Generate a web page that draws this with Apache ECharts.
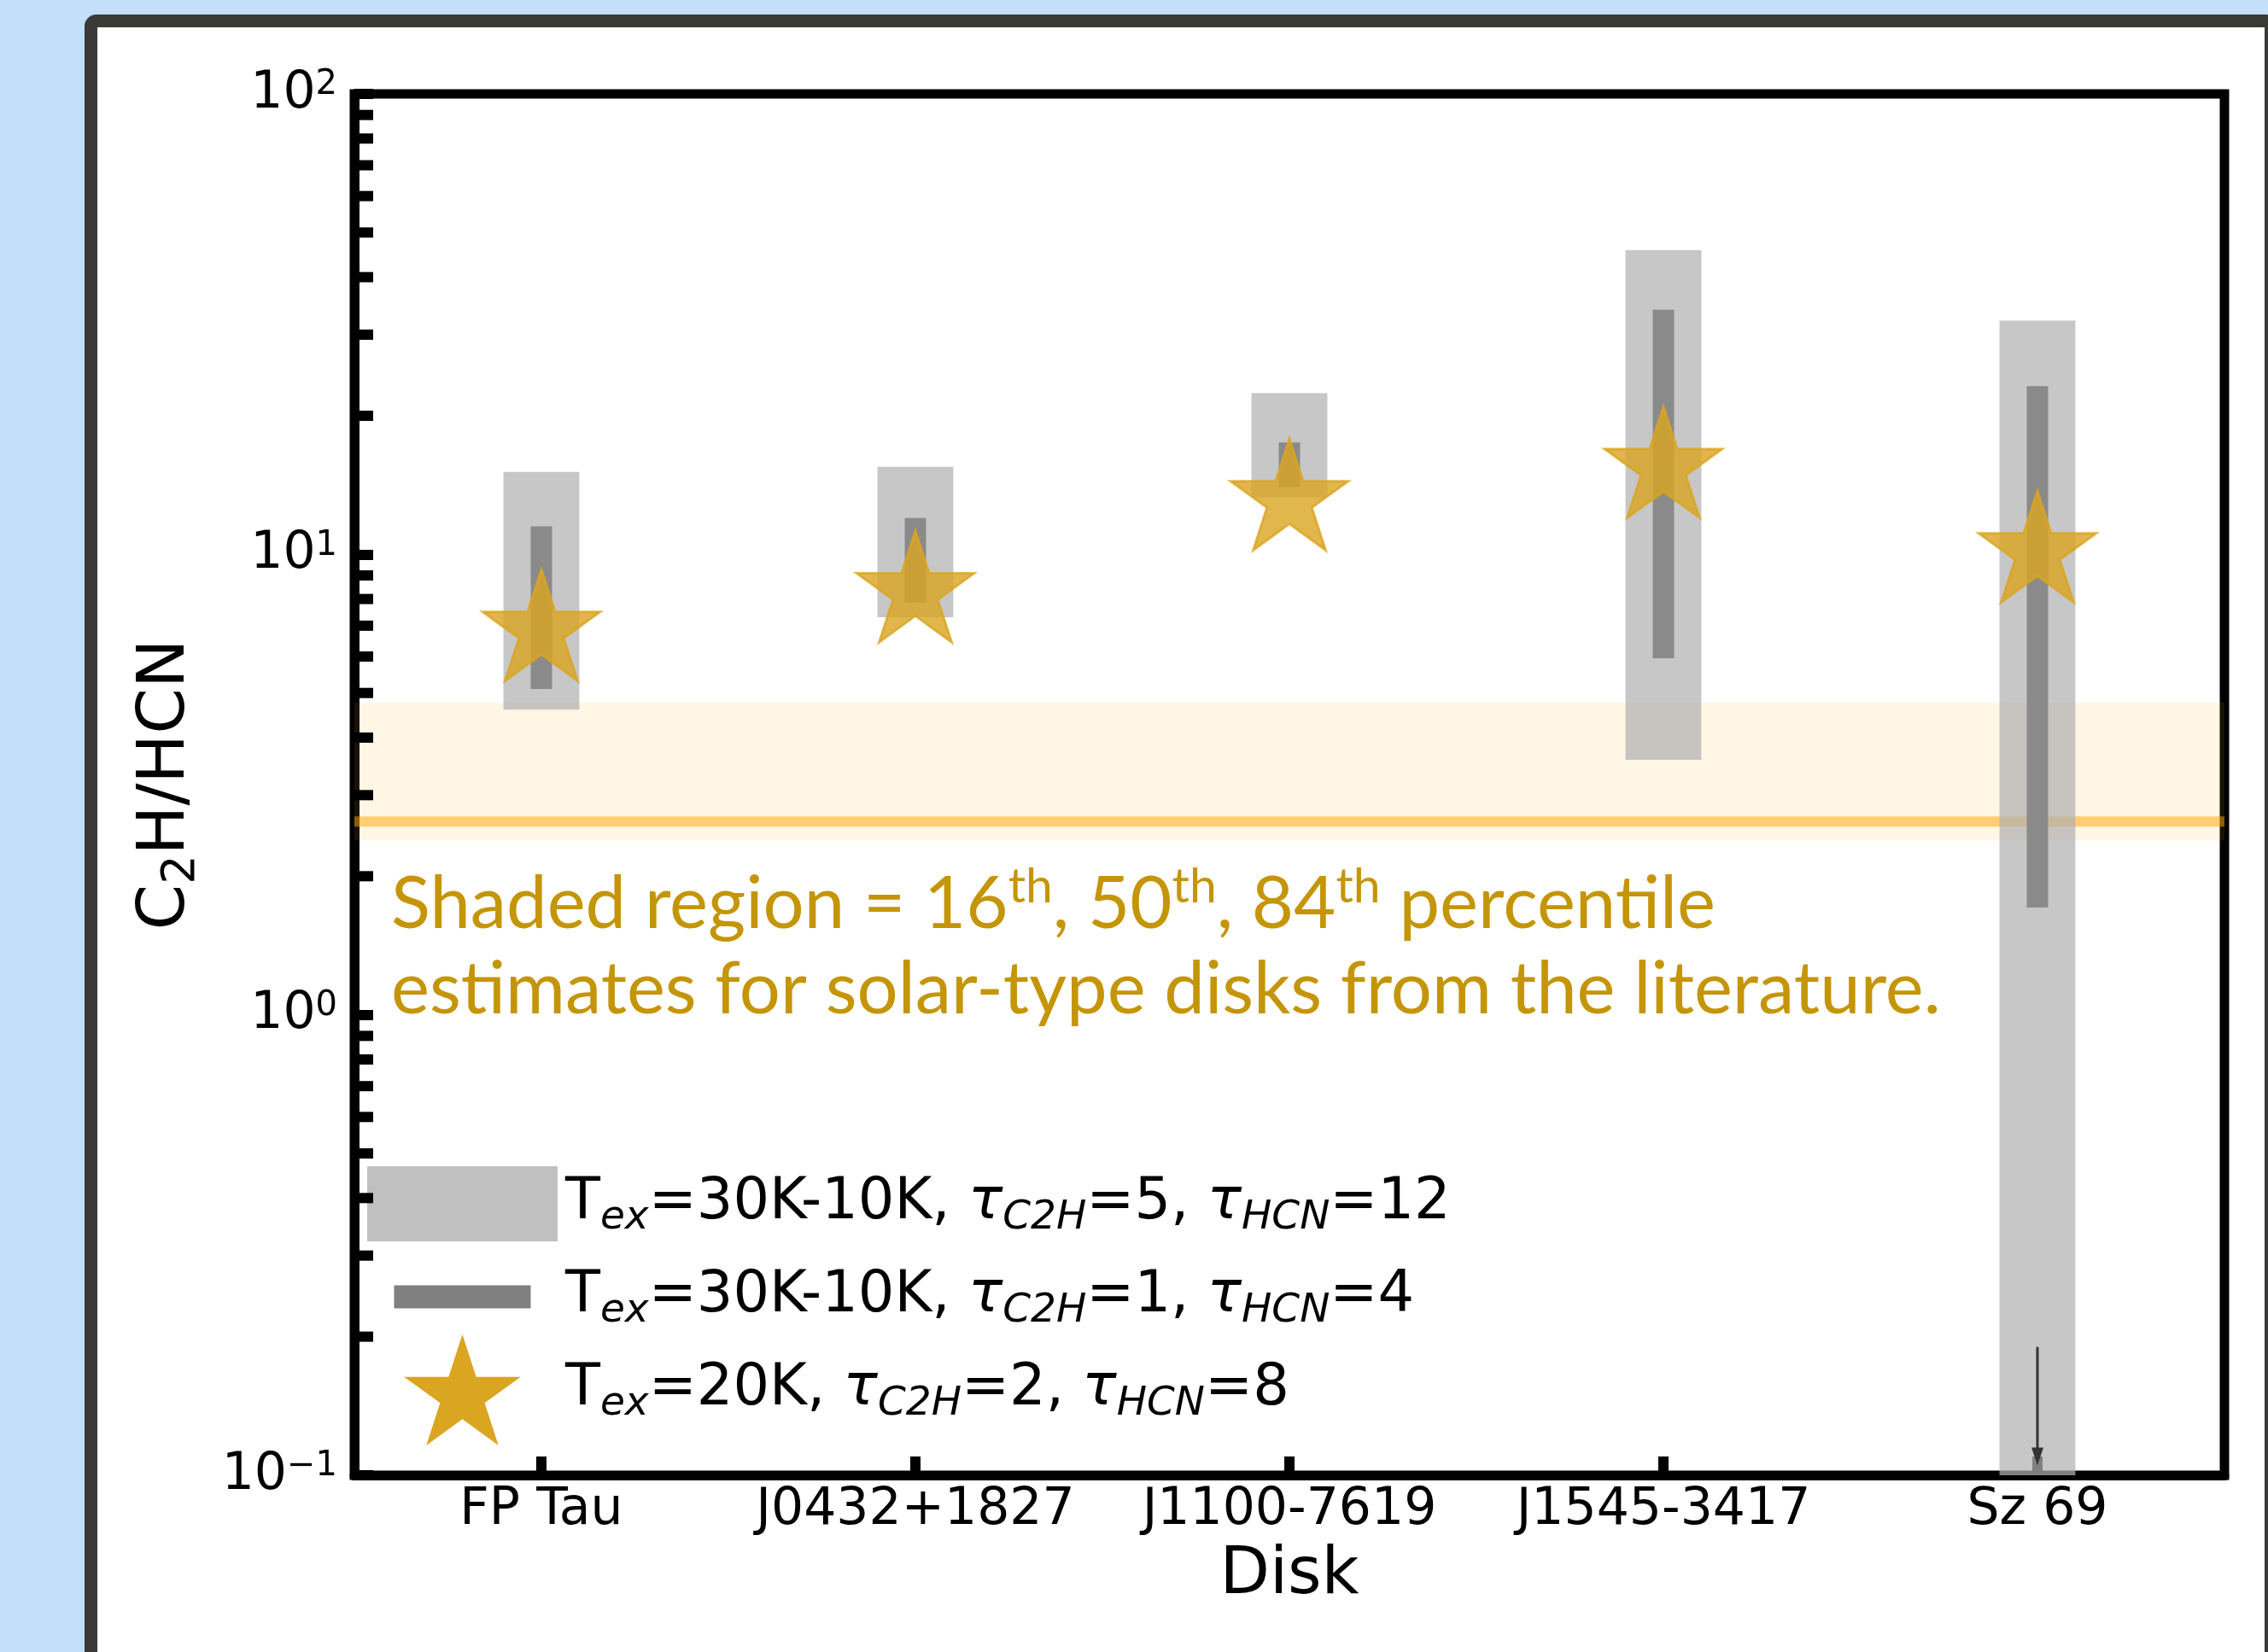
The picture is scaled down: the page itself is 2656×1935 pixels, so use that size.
<!DOCTYPE html>
<html><head><meta charset="utf-8">
<script src="https://cdn.jsdelivr.net/npm/echarts@6/dist/echarts.min.js"></script>
<style>
html,body{margin:0;padding:0;width:2656px;height:1935px;overflow:hidden;background:#c3dff9;}
#frame{position:absolute;left:99px;top:17px;width:2568px;height:2000px;box-sizing:border-box;border:15px solid #3a3937;border-radius:14px;background:#fff;}
#chart{position:absolute;left:0;top:0;width:2656px;height:1935px;}
</style></head><body><div id="frame"></div><div id="chart"></div>
<script>
// ---- data ----
const disks = ['FP Tau', 'J0432+1827', 'J1100-7619', 'J1545-3417', 'Sz 69'];
const wideLow = [4.6, 7.3, 13.3, 3.58, 0.1];      // Tex=30K-10K, tauC2H=5, tauHCN=12
const wideHigh = [15.1, 15.5, 22.4, 45.8, 32.2];
const narrowLow = [5.1, 7.85, 14.0, 5.95, 1.71];  // Tex=30K-10K, tauC2H=1, tauHCN=4
const narrowHigh = [11.5, 12.0, 17.5, 34.0, 23.2];
const starVals = [6.82, 8.27, 13.1, 15.4, 10.1];  // Tex=20K, tauC2H=2, tauHCN=8
const litPercentiles = [2.39, 2.63, 4.77];        // 16th, 50th, 84th
const upperLimitArrow = [4, 0.19, 0.105];         // category index, from, to
const yMinorTicks = [0.2, 0.3, 0.4, 0.5, 0.6, 0.7, 0.8, 0.9, 2, 3, 4, 5, 6, 7, 8, 9, 20, 30, 40, 50, 60, 70, 80, 90];
const legendNames = ['wide', 'narrow', 'star'];
const legendTexts = [
  'T{s|ex}=30K-10K, {i|τ}{s|C2H}=5, {i|τ}{s|HCN}=12',
  'T{s|ex}=30K-10K, {i|τ}{s|C2H}=1, {i|τ}{s|HCN}=4',
  'T{s|ex}=20K, {i|τ}{s|C2H}=2, {i|τ}{s|HCN}=8'
];
const annotation = 'Shaded region = 16{sup|th}, 50{sup|th}, 84{sup|th} percentile\nestimates for solar-type disks from the literature.';

const STAR = 'M0,-100 L22.45,-30.9 L95.1,-30.9 L36.33,11.8 L58.78,80.9 L0,38.2 L-58.78,80.9 L-36.33,11.8 L-95.1,-30.9 L-22.45,-30.9 Z';
const starSymbol = 'path://' + STAR + ' M0,100';
const legendIcons = [
  'path://M0,0 L223,0 L223,88 L0,88 Z M0,-21 M223,109',
  'path://M0,0 L160,0 L160,27 L0,27 Z M-31.5,-51.5 M191.5,78.5',
  'path://' + STAR + ' M-155.2,-100 M155.2,80.9'
];

function boxRender(frac, fill) {
  return function (params, api) {
    const i = api.value(0);
    const top = api.coord([i, api.value(2)]);
    const bot = api.coord([i, api.value(1)]);
    const w = params.coordSys.width / disks.length * frac;
    return {type: 'rect', shape: {x: top[0] - w / 2, y: top[1], width: w, height: bot[1] - top[1]}, style: {fill: fill}};
  };
}

const chart = echarts.init(document.getElementById('chart'), null, {renderer: 'canvas'});
const FF = 'DejaVu Sans';
chart.setOption({
  animation: false,
  backgroundColor: 'transparent',
  grid: {left: 415, right: 51, top: 110, bottom: 207, show: true, borderColor: '#000', borderWidth: 11, backgroundColor: 'transparent', containLabel: false, outerBoundsMode: 'none'},
  xAxis: {
    type: 'category', data: disks, boundaryGap: true,
    axisLine: {show: true, lineStyle: {color: '#000', width: 11}},
    axisTick: {show: true, inside: true, alignWithLabel: true, interval: 0, length: 22, lineStyle: {color: '#000', width: 12}},
    axisLabel: {fontSize: 60, fontFamily: FF, color: '#000', margin: 11, interval: 0, hideOverlap: false},
    splitLine: {show: false},
    name: 'Disk', nameLocation: 'middle', nameGap: 80,
    nameTextStyle: {fontSize: 76, fontFamily: FF, color: '#000'}
  },
  yAxis: {
    type: 'log', logBase: 10, min: 0.1, max: 100,
    axisLine: {show: true, lineStyle: {color: '#000', width: 11}},
    axisTick: {show: true, inside: true, length: 22, lineStyle: {color: '#000', width: 12}},
    minorTick: {show: false},
    splitLine: {show: false},
    axisLabel: {
      margin: 20, color: '#000', fontFamily: FF,
      formatter: function (v) {
        const e = Math.round(Math.log10(v));
        return '{b|10}{s|' + (e < 0 ? '\u2212' + (-e) : e) + '}';
      },
      rich: {
        b: {fontSize: 60, fontFamily: FF, color: '#000', lineHeight: 60, padding: [17, 0, 17, 0]},
        s: {fontSize: 40, fontFamily: FF, color: '#000', lineHeight: 60, verticalAlign: 'top'}
      }
    },
    name: 'C{sub|2}H/HCN', nameLocation: 'middle', nameGap: 175,
    nameTextStyle: {fontSize: 77, fontFamily: FF, color: '#000', lineHeight: 90,
      rich: {sub: {fontSize: 54, fontFamily: FF, color: '#000', lineHeight: 50, verticalAlign: 'bottom'}}}
  },
  legend: {
    orient: 'vertical', left: 430, top: 1345, padding: 0, itemGap: -21,
    itemWidth: 223, itemHeight: 130, selectedMode: false,
    data: [
      {name: legendNames[0], icon: legendIcons[0], itemStyle: {color: '#c0c0c0', borderWidth: 0, opacity: 1}},
      {name: legendNames[1], icon: legendIcons[1], itemStyle: {color: '#808080', borderWidth: 0, opacity: 1}},
      {name: legendNames[2], icon: legendIcons[2], itemStyle: {color: '#daa520', borderWidth: 0, opacity: 1}}
    ],
    formatter: function (name) { return legendTexts[legendNames.indexOf(name)]; },
    textStyle: {
      fontFamily: FF, fontSize: 67, color: '#000', lineHeight: 80, padding: [0, 0, 0, 4],
      rich: {
        s: {fontFamily: FF, fontSize: 47, fontStyle: 'italic', color: '#000', lineHeight: 50, verticalAlign: 'bottom'},
        i: {fontFamily: FF, fontSize: 67, fontStyle: 'italic', color: '#000', lineHeight: 80}
      }
    }
  },
  graphic: [{
    type: 'text', left: 458, top: 1010, z: 50,
    style: {
      text: annotation, fill: '#c59508', fontFamily: 'Lato', fontSize: 85, lineHeight: 100,
      rich: {sup: {fontFamily: 'Lato', fontSize: 57, fill: '#c59508', lineHeight: 69, verticalAlign: 'top'}}
    }
  }],
  series: [
    {
      name: 'band', type: 'custom', silent: true, z: 1,
      data: [[0, litPercentiles[0], litPercentiles[1], litPercentiles[2]]],
      renderItem: function (params, api) {
        const cs = params.coordSys;
        const y16 = api.coord([0, api.value(1)])[1];
        const y50 = api.coord([0, api.value(2)])[1];
        const y84 = api.coord([0, api.value(3)])[1];
        return {type: 'group', children: [
          {type: 'rect', shape: {x: cs.x, y: y84, width: cs.width, height: y16 - y84}, style: {fill: 'rgba(255,165,0,0.1)'}},
          {type: 'line', shape: {x1: cs.x, y1: y50, x2: cs.x + cs.width, y2: y50}, style: {stroke: 'rgba(255,165,0,0.5)', lineWidth: 12}}
        ]};
      }
    },
    {
      name: legendNames[0], type: 'custom', silent: true, z: 2, clip: true,
      itemStyle: {color: '#c0c0c0'},
      data: disks.map((d, i) => [i, wideLow[i], wideHigh[i]]),
      renderItem: boxRender(0.203, 'rgba(178,178,178,0.72)')
    },
    {
      name: legendNames[1], type: 'custom', silent: true, z: 3, clip: true,
      itemStyle: {color: '#808080'},
      data: disks.map((d, i) => [i, narrowLow[i], narrowHigh[i]]),
      renderItem: boxRender(0.057, '#8a8a8a')
    },
    {
      name: legendNames[2], type: 'scatter', silent: true, z: 4,
      symbol: starSymbol, symbolSize: [137, 144],
      itemStyle: {color: 'rgba(218,165,32,0.8)', borderColor: 'rgba(218,165,32,0.8)', borderWidth: 3, opacity: 1},
      data: disks.map((d, i) => [i, starVals[i]])
    },
    {
      name: 'arrow', type: 'custom', silent: true, z: 5,
      data: [upperLimitArrow],
      renderItem: function (params, api) {
        const p0 = api.coord([api.value(0), api.value(1)]);
        const p1 = api.coord([api.value(0), api.value(2)]);
        return {type: 'group', children: [
          {type: 'line', shape: {x1: p0[0], y1: p0[1], x2: p1[0], y2: p1[1] - 12}, style: {stroke: '#333', lineWidth: 3}},
          {type: 'polygon', shape: {points: [[p1[0] - 7, p1[1] - 21], [p1[0] + 7, p1[1] - 21], [p1[0], p1[1]]]}, style: {fill: '#333'}}
        ]};
      }
    },
    {
      name: 'minorTicks', type: 'custom', silent: true, z: 6,
      data: yMinorTicks.map(v => [0, v]),
      renderItem: function (params, api) {
        const cs = params.coordSys;
        const y = api.coord([0, api.value(1)])[1];
        return {type: 'line', shape: {x1: cs.x, y1: y, x2: cs.x + 22, y2: y}, style: {stroke: '#000', lineWidth: 12}};
      }
    }
  ]
});
</script></body></html>
